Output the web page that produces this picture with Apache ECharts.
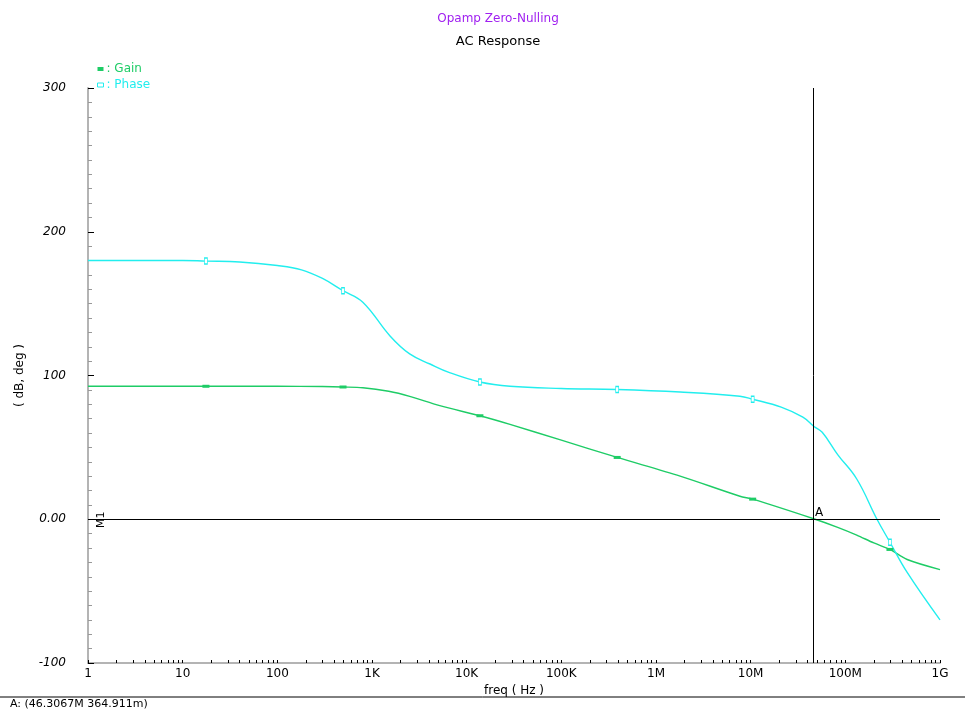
<!DOCTYPE html>
<html>
<head>
<meta charset="utf-8">
<script src="https://cdn.jsdelivr.net/npm/echarts@6/dist/echarts.min.js"></script>
<style>
  html, body { margin: 0; padding: 0; background: #fff; }
  #chart { width: 965px; height: 709px; }
</style>
</head>
<body>
<div id="chart"></div>
<script>
// frequency (Hz) / value pairs
const gainFreq = [1, 10, 17.6, 100, 300, 494, 800, 1.5e3, 2.5e3, 5.2e3, 1.38e4, 2.87e4, 1e5, 3.89e5, 1.8e6, 7.7e6, 1.05e7, 4.63e7, 8.3e7, 1.32e8, 2e8, 2.96e8, 4.5e8, 1e9];
const gainDb   = [92.5, 92.5, 92.5, 92.5, 92.3, 92.0, 91.5, 89, 85.5, 79, 72, 66, 55, 43, 30, 16, 14, 0.36, -5.6, -11, -16.5, -21, -28, -35];
const phaseFreq = [1, 10, 17.6, 40, 100, 180, 300, 494, 800, 1.55e3, 2.5e3, 4.1e3, 6.6e3, 1.38e4, 2.87e4, 1e5, 3.89e5, 1.8e6, 7.7e6, 1.05e7, 2.1e7, 3.56e7, 4.63e7, 5.7e7, 8.3e7, 1.32e8, 2.16e8, 2.96e8, 4.5e8, 1e9];
const phaseDeg  = [180, 180, 179.6, 179, 176.5, 173.5, 167.5, 159, 151, 127.5, 115, 108, 102, 95.5, 92.5, 91, 90.3, 88.5, 85.6, 83.5, 78, 71, 64.7, 60.5, 45, 28, 0, -16, -37, -70];
// frequencies where the simulator drew its little series markers
const markerFreq = [17.6, 494, 1.38e4, 3.89e5, 1.05e7, 2.96e8];
const xLabels = ["1", "10", "100", "1K", "10K", "100K", "1M", "10M", "100M", "1G"];
const cursorFreq = 46.3067e6;

const GAIN = "#1ecc66";
const PHASE = "#22eeee";
const FONT = "DejaVu Sans";

// minor ticks at 2..9 of every decade
const tickVals = [];
for (let d = 0; d < 9; d++) {
  for (let k = 1; k <= 9; k++) tickVals.push(k * Math.pow(10, d));
}
tickVals.push(1e9);

function toData(freqs, vals, size) {
  return freqs.map((f, i) =>
    markerFreq.indexOf(f) >= 0
      ? { value: [f, vals[i]], symbol: "rect", symbolSize: size }
      : [f, vals[i]]
  );
}

const chart = echarts.init(document.getElementById("chart"));
chart.setOption({
  animation: false,
  textStyle: { fontFamily: FONT },
  title: {
    text: "Opamp Zero-Nulling",
    subtext: "AC Response",
    left: 493,
    top: 8,
    textAlign: "center",
    itemGap: 10,
    textStyle: { color: "#a020f0", fontSize: 12, fontWeight: "normal", fontFamily: FONT },
    subtextStyle: { color: "#000", fontSize: 13, fontFamily: FONT },
  },
  legend: {
    left: 92,
    top: 58,
    orient: "vertical",
    itemGap: 4,
    itemWidth: 6,
    itemHeight: 4,
    selectedMode: false,
    formatter: ": {name}",
    textStyle: { fontSize: 12, fontFamily: FONT, padding: [0, 0, 0, -2] },
    data: [
      { name: "Gain", icon: "rect", itemStyle: { color: GAIN }, textStyle: { color: GAIN } },
      { name: "Phase", icon: "rect", itemStyle: { color: "#fff", borderColor: PHASE, borderWidth: 1 }, textStyle: { color: PHASE } },
    ],
  },
  grid: { left: 88, right: 25, top: 88, bottom: 46 },
  xAxis: {
    type: "log",
    logBase: 10,
    min: 1,
    max: 1e9,
    interval: 1,
    name: "freq ( Hz )",
    nameLocation: "middle",
    nameGap: 16,
    nameTextStyle: { color: "#000", fontSize: 12, fontFamily: FONT },
    axisLine: { onZero: false, lineStyle: { color: "#b4b4b4", width: 2 } },
    axisTick: { show: true, inside: true, length: 3, customValues: tickVals, lineStyle: { color: "#000" } },
    axisLabel: {
      color: "#000",
      fontSize: 12,
      margin: 5,
      formatter: (v) => xLabels[Math.round(Math.log10(v))],
    },
    splitLine: { show: false },
  },
  yAxis: {
    type: "value",
    min: -100,
    max: 300,
    interval: 100,
    name: "( dB, deg )",
    nameLocation: "middle",
    nameRotate: 90,
    nameGap: 62,
    nameTextStyle: { color: "#000", fontSize: 12, fontFamily: FONT },
    axisLine: { show: true, onZero: false, lineStyle: { color: "#b4b4b4", width: 2 } },
    axisTick: { show: true, inside: true, length: 6, lineStyle: { color: "#000" } },
    minorTick: { show: true, splitNumber: 10, length: 4, lineStyle: { color: "#999" } },
    axisLabel: {
      color: "#000",
      fontSize: 12,
      fontStyle: "italic",
      margin: 22,
      formatter: (v) => (v === 0 ? "0.00" : String(v)),
    },
    splitLine: { show: false },
  },
  series: [
    {
      name: "Gain",
      type: "line",
      smooth: 0.3,
      symbol: "none",
      showSymbol: true,
      lineStyle: { color: GAIN, width: 1.4 },
      itemStyle: { color: GAIN },
      data: toData(gainFreq, gainDb, [7, 3]),
      markLine: {
        silent: true,
        symbol: "none",
        label: { show: false },
        lineStyle: { color: "#000", type: "solid", width: 1 },
        data: [{ yAxis: 0 }, { xAxis: cursorFreq }],
      },
    },
    {
      name: "Phase",
      type: "line",
      smooth: 0.4,
      symbol: "none",
      showSymbol: true,
      lineStyle: { color: PHASE, width: 1.4 },
      itemStyle: { color: "#fff", borderColor: PHASE, borderWidth: 1 },
      data: toData(phaseFreq, phaseDeg, [3, 6]),
    },
  ],
  graphic: [
    { type: "text", left: 815, top: 507, style: { text: "A", fill: "#000", font: "12px " + FONT } },
    { type: "text", x: 96, y: 528, rotation: Math.PI / 2, style: { text: "M1", fill: "#000", font: "11px " + FONT } },
    { type: "line", shape: { x1: 0, y1: 697, x2: 965, y2: 697 }, style: { stroke: "#000", lineWidth: 1 } },
    { type: "text", left: 10, top: 699, style: { text: "A: (46.3067M 364.911m)", fill: "#000", font: "11px " + FONT } },
  ],
});
</script>
</body>
</html>
